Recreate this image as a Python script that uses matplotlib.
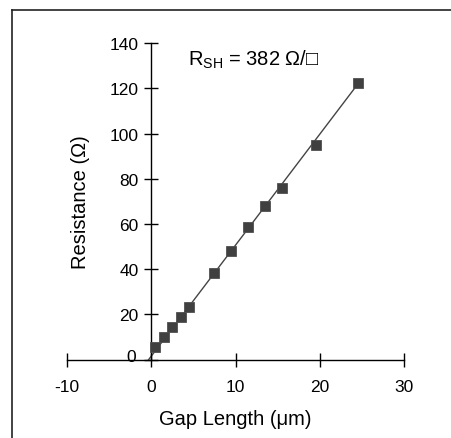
import matplotlib
matplotlib.use("Agg")
import matplotlib.pyplot as plt
import matplotlib.transforms as mtransforms
from matplotlib.lines import Line2D

plt.rcParams['font.family'] = ['Liberation Sans', 'DejaVu Sans']
plt.rcParams['mathtext.fontset'] = 'custom'
plt.rcParams['mathtext.rm'] = 'Liberation Sans'
plt.rcParams['mathtext.it'] = 'Liberation Sans'
plt.rcParams['axes.unicode_minus'] = False

# measured points (gap length in um, resistance in ohm)
gap = [0.5, 1.5, 2.5, 3.5, 4.5, 7.5, 9.5, 11.5, 13.5, 15.5, 19.5, 24.5]
resistance = [5.5, 10, 14.5, 19, 23.5, 38.5, 48, 58.5, 68, 76, 95, 122.5]

# fitted line ends
fit_x = [-0.3, 24.6]
fit_y = [0, 122.5]

xticks = [-10, 0, 10, 20, 30]
yticks = [0, 20, 40, 60, 80, 100, 120, 140]

fig = plt.figure(figsize=(4.52, 4.39), dpi=100)
ax = fig.add_axes([0.1476, 0.1784, 0.7469, 0.7207])

ax.plot(fit_x, fit_y, color='#444444', lw=1.0, zorder=2)
ax.plot(gap, resistance, ls='none', marker='s', ms=7.2, color='#404040',
        mec='#505050', mew=0.6, zorder=3, clip_on=False)

ax.set_xlim(-10, 30)
ax.set_ylim(0, 140)
ax.spines['left'].set_position(('data', 0))
ax.spines['right'].set_visible(False)
ax.spines['top'].set_visible(False)
for s in ['left', 'bottom']:
    ax.spines[s].set_linewidth(1.0)

ax.set_xticks(xticks)
ax.set_yticks(yticks)
ax.tick_params(direction='inout', length=10, width=1.0, labelsize=12.5)
ax.tick_params(axis='x', pad=9)
ax.tick_params(axis='y', pad=4)

# the "0" label on the y axis sits a bit up and left in the original
zero_lbl = ax.get_yticklabels()[0]
zero_lbl.set_transform(zero_lbl.get_transform() +
                       mtransforms.ScaledTranslation(-3 / 100, 5 / 100, fig.dpi_scale_trans))

ax.set_xlabel('Gap Length (μm)', fontsize=14.5)
ax.set_ylabel('Resistance (Ω)', fontsize=14.5)
ax.yaxis.set_label_coords(0.04, 0.5)
ax.xaxis.set_label_coords(0.5, -0.185)
ax.xaxis.label.set_va('center')
ax.yaxis.label.set_va('center')

ax.text(4.4, 133, r'R$_{\mathrm{SH}}$ = 382 Ω/□', fontsize=14.5, va='center')

# partial frame around the figure (left and top only)
fig.add_artist(Line2D([12 / 452, 12 / 452], [0, 1 - 10.5 / 439], color='#222222', lw=1.2))
fig.add_artist(Line2D([12 / 452, 1], [1 - 10.5 / 439, 1 - 10.5 / 439], color='#222222', lw=1.2))

fig.savefig('out.png', dpi=100)
